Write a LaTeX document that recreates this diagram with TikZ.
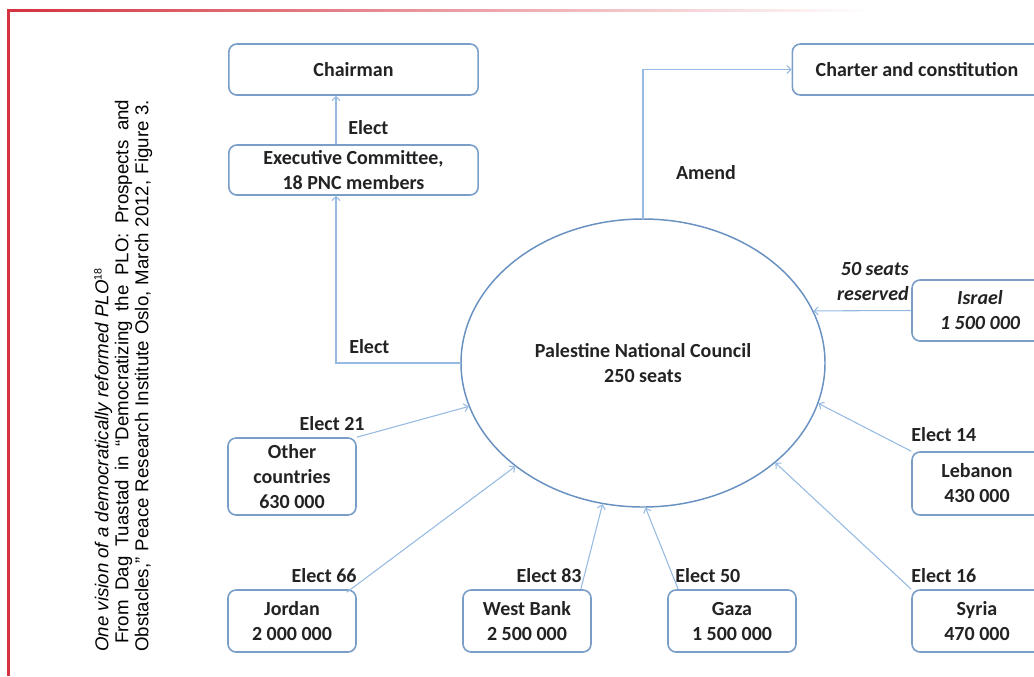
\documentclass[tikz,border=0pt]{standalone}
\usepackage{fontspec}
\setmainfont{Carlito}
\newfontfamily\capfont{Liberation Sans}
\usetikzlibrary{shapes.geometric,arrows.meta,positioning,calc}
\definecolor{framered}{RGB}{212,50,62}
\definecolor{framesalmon}{RGB}{230,128,112}
\definecolor{boxblue}{RGB}{122,158,200}
\definecolor{linkblue}{RGB}{150,186,226}
\definecolor{pncblue}{RGB}{104,144,192}
\definecolor{inkgray}{RGB}{35,35,35}
\newcommand\boxfont{\fontsize{15}{18.75}\selectfont\bfseries}

\begin{document}
\begin{tikzpicture}[
    x=0.75pt, y=-0.75pt,
    every node/.style={font=\boxfont, text=inkgray},
    box/.style={rectangle, draw=boxblue, line width=1.2pt, rounded corners=6pt, fill=white, align=center, minimum height=46.5pt, inner sep=0pt},
    wide/.style={box, minimum width=187pt, minimum height=38.25pt},
    country/.style={box, minimum width=96pt},
    council/.style={ellipse, draw=pncblue, line width=1.1pt, minimum width=273pt, minimum height=216pt, align=center, inner sep=0pt},
    link/.style={-{Straight Barb[length=3pt,width=6pt]}, draw=linkblue, line width=0.8pt},
    lbl/.style={inner sep=0pt}
]
\useasboundingbox (0,0) rectangle (1034,676);
\clip (0,0) rectangle (1034,676);

% frame
\shade[left color=framered, middle color=framesalmon, right color=white] (7,9) rectangle (870,11.5);
\fill[framered] (7,9) rectangle (9.5,676);

% caption
\node[rotate=90, anchor=north west, inner sep=0pt, align=left, text=black,
      font=\capfont\fontsize{14}{15}\selectfont] (caption) at (94,652)
  {\textit{One vision of a democratically reformed PLO}{\fontsize{8}{8}\selectfont\raisebox{5pt}{18}}\\
   \hspace*{6pt}\makebox[408pt][s]{From Dag Tuastad in “Democratizing the PLO: Prospects and}\\
   \makebox[414pt][s]{Obstacles,” Peace Research Institute Oslo, March 2012, Figure 3.}};

% boxes
\node[wide] (chair) at (353.5,69.5) {Chairman};
\node[wide, minimum height=37.5pt] (exec) at (353.5,170) {Executive Committee,\\18 PNC members};
\node[wide] (charter) at (917,69.5) {Charter and constitution};
\node[council] (pnc) at (643,363) {Palestine National Council\\250 seats};

\node[country, minimum width=102pt, minimum height=45.75pt, font=\boxfont\itshape] (israel) at (980,310.5) {Israel\\1 500 000};
\node[country, minimum width=97.5pt, minimum height=47.25pt] (lebanon) at (977,483.5) {Lebanon\\430 000};
\node[country, minimum width=97.5pt] (syria) at (977,621) {Syria\\470 000};
\node[country, minimum height=57.75pt] (other) at (292,476.5) {Other\\countries\\630 000};
\node[country] (jordan) at (292,621) {Jordan\\2 000 000};
\node[country] (westbank) at (527,621) {West Bank\\2 500 000};
\node[country] (gaza) at (732,621) {Gaza\\1 500 000};

% connectors
\coordinate (up) at (336,0);
\draw[link] (up |- exec.north) -- (up |- chair.south);
\node[lbl, anchor=west] (elect1) at (348,128) {Elect};
\draw[link] (pnc.west) -| (up |- exec.south);
\node[lbl, anchor=west] (elect2) at (349,347) {Elect};
\draw[link] (pnc.north) |- (charter.west);
\node[lbl] (amend) at (706,173) {Amend};

\draw[link] (israel.west) -- (pnc.17);
\node[lbl, font=\boxfont\itshape, anchor=east, align=right] (reserved) at (909,282) {50 seats\\reserved};

\draw[link] (lebanon.north west) -- (pnc.-13);
\node[lbl, anchor=base west] (e14) at ([yshift=7.5pt]lebanon.north west) {Elect 14};
\draw[link] (syria.north west) -- (pnc.-37);
\node[lbl, anchor=base west] (e16) at ([yshift=5.25pt]syria.north west) {Elect 16};

\coordinate (gz) at ($(gaza.north west)+(11,0)$);
\draw[link] (gz) -- (pnc.-89);
\node[lbl, anchor=base west] (e50) at ([xshift=6pt,yshift=5.25pt]gaza.north west) {Elect 50};
\coordinate (wb) at ($(westbank.north east)+(-11,0)$);
\draw[link] (wb) -- (pnc.-106);
\node[lbl, anchor=base east] (e83) at ([xshift=-7.5pt,yshift=5.25pt]westbank.north east) {Elect 83};
\coordinate (jd) at ($(jordan.north east)+(-10,3)$);
\draw[link] (jd) -- (pnc.-141);
\node[lbl, anchor=base east] (e66) at ([yshift=5.25pt]jordan.north east) {Elect 66};
\draw[link] (other.north east) -- (pnc.-166);
\node[lbl, anchor=base east] (e21) at ([xshift=6pt,yshift=5.25pt]other.north east) {Elect 21};
\end{tikzpicture}
\end{document}
